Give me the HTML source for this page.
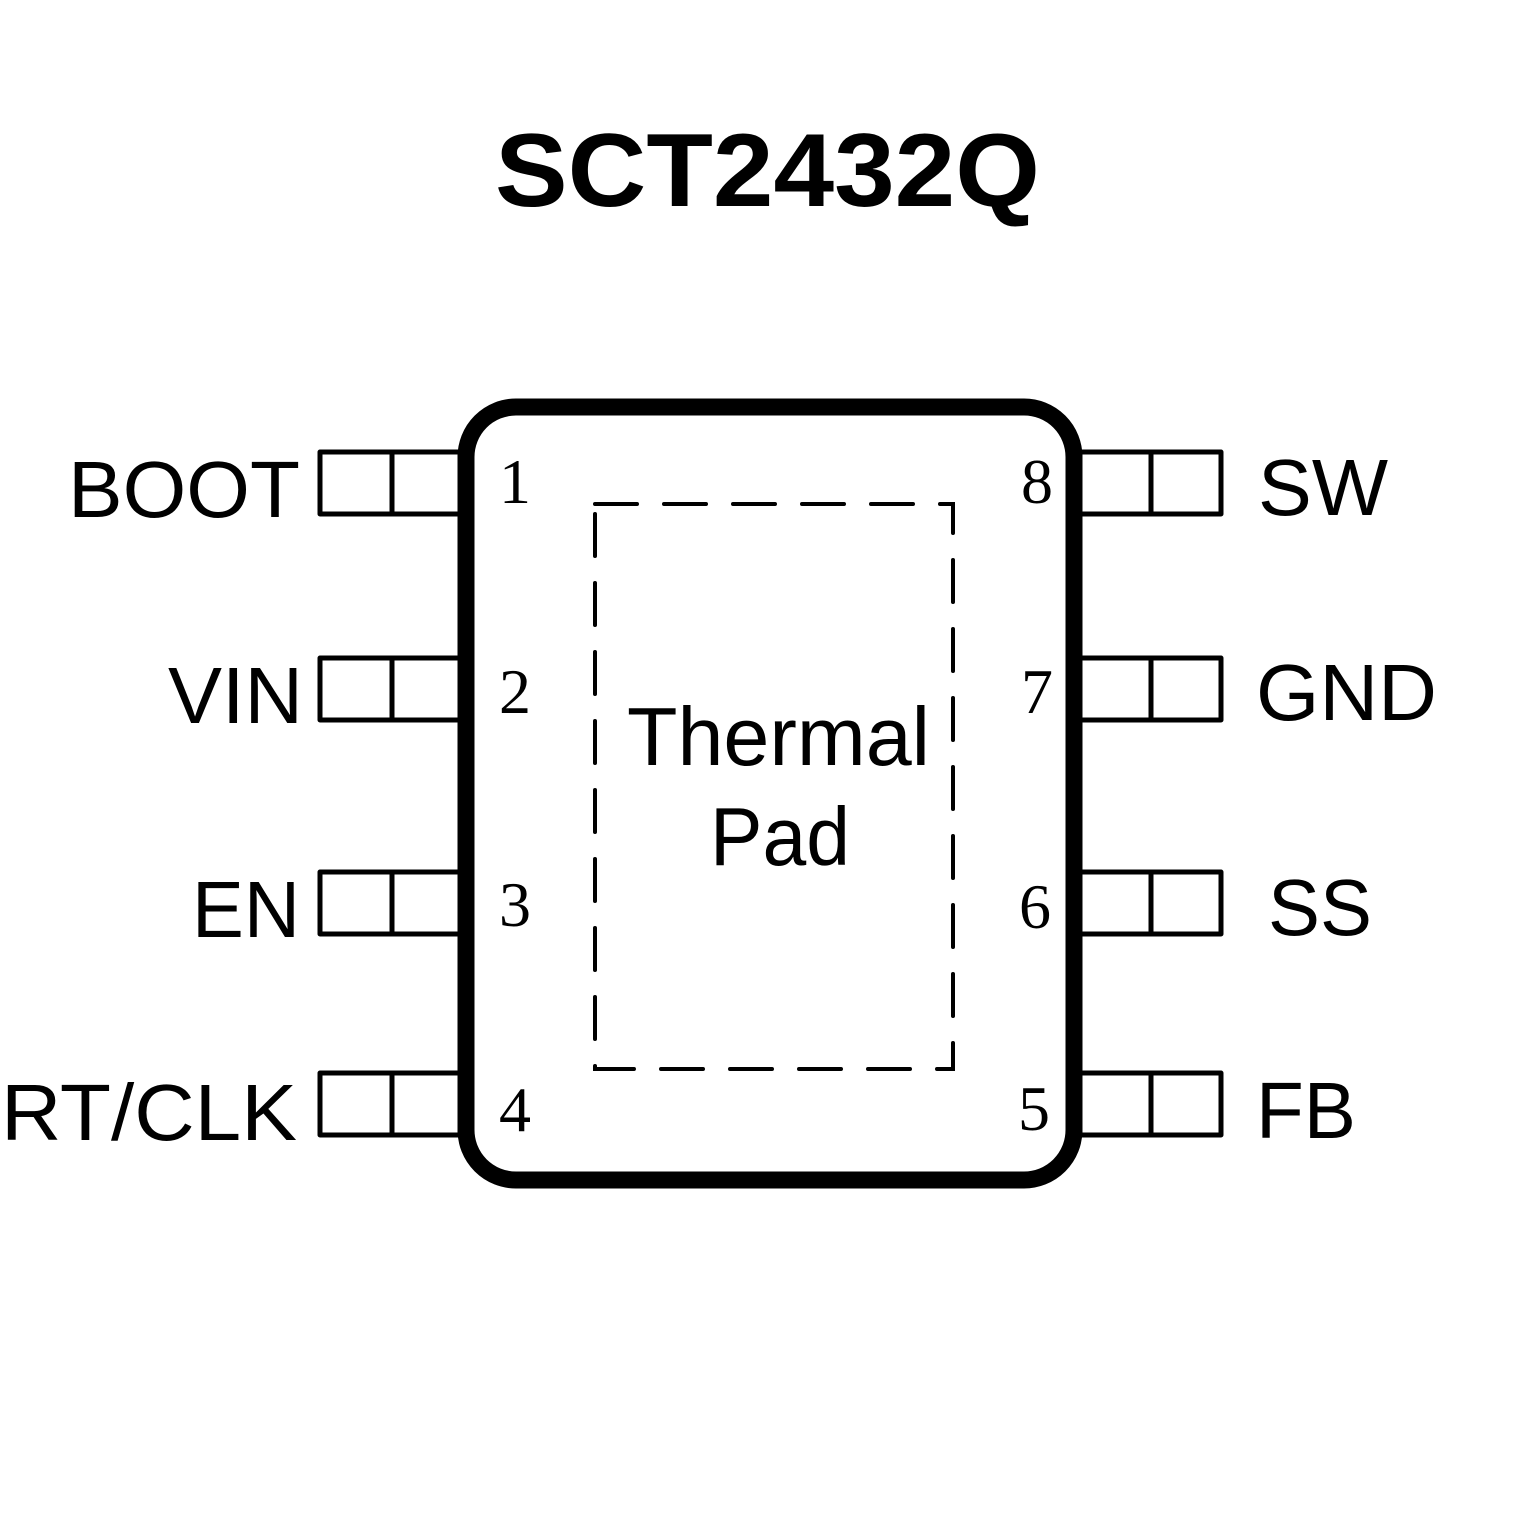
<!DOCTYPE html>
<html><head><style>html,body{margin:0;padding:0;background:#fff}</style></head>
<body>
<svg width="1535" height="1535" viewBox="0 0 1535 1535" xmlns="http://www.w3.org/2000/svg">
<rect width="1535" height="1535" fill="#fff"/>
<text x="495" y="206" font-family="Liberation Sans, sans-serif" font-weight="bold" font-size="104" textLength="545" lengthAdjust="spacingAndGlyphs">SCT2432Q</text>
<g fill="none" stroke="#000" stroke-width="5" stroke-linejoin="round">
<rect x="320" y="452" width="140" height="62"/><line x1="392" y1="452" x2="392" y2="514"/>
<rect x="320" y="658" width="140" height="62"/><line x1="392" y1="658" x2="392" y2="720"/>
<rect x="320" y="872" width="140" height="62"/><line x1="392" y1="872" x2="392" y2="934"/>
<rect x="320" y="1073" width="140" height="62"/><line x1="392" y1="1073" x2="392" y2="1135"/>
<rect x="1080" y="452" width="141" height="62"/><line x1="1151" y1="452" x2="1151" y2="514"/>
<rect x="1080" y="658" width="141" height="62"/><line x1="1151" y1="658" x2="1151" y2="720"/>
<rect x="1080" y="872" width="141" height="62"/><line x1="1151" y1="872" x2="1151" y2="934"/>
<rect x="1080" y="1073" width="141" height="62"/><line x1="1151" y1="1073" x2="1151" y2="1135"/>
</g>
<rect x="466" y="407" width="608" height="773" rx="50" fill="#fff" stroke="#000" stroke-width="17"/>
<rect x="595" y="504" width="358" height="565" fill="none" stroke="#000" stroke-width="4" stroke-dasharray="42 27" stroke-linecap="round"/>
<g font-family="Liberation Sans, sans-serif" font-size="80" lengthAdjust="spacingAndGlyphs">
<text x="68" y="517" textLength="232" lengthAdjust="spacingAndGlyphs">BOOT</text>
<text x="168" y="723" textLength="135" lengthAdjust="spacingAndGlyphs">VIN</text>
<text x="192" y="937" textLength="108" lengthAdjust="spacingAndGlyphs">EN</text>
<text x="1" y="1140" textLength="296" lengthAdjust="spacingAndGlyphs">RT/CLK</text>
<text x="1258" y="515" textLength="130" lengthAdjust="spacingAndGlyphs">SW</text>
<text x="1256" y="720" textLength="181" lengthAdjust="spacingAndGlyphs">GND</text>
<text x="1268" y="935" textLength="104" lengthAdjust="spacingAndGlyphs">SS</text>
<text x="1256" y="1138" textLength="100" lengthAdjust="spacingAndGlyphs">FB</text>
</g>
<g font-family="Liberation Sans, sans-serif" font-size="83">
<text x="627" y="765" textLength="303" lengthAdjust="spacingAndGlyphs">Thermal</text>
<text x="710" y="865" textLength="140" lengthAdjust="spacingAndGlyphs">Pad</text>
</g>
<g font-family="Liberation Serif, serif" font-size="64" text-anchor="middle">
<text x="515" y="503">1</text><text x="515" y="713">2</text><text x="515" y="926">3</text><text x="515" y="1131">4</text>
<text x="1037" y="503">8</text><text x="1037" y="713">7</text><text x="1035" y="928">6</text><text x="1034" y="1130">5</text>
</g>
</svg>
</body></html>
